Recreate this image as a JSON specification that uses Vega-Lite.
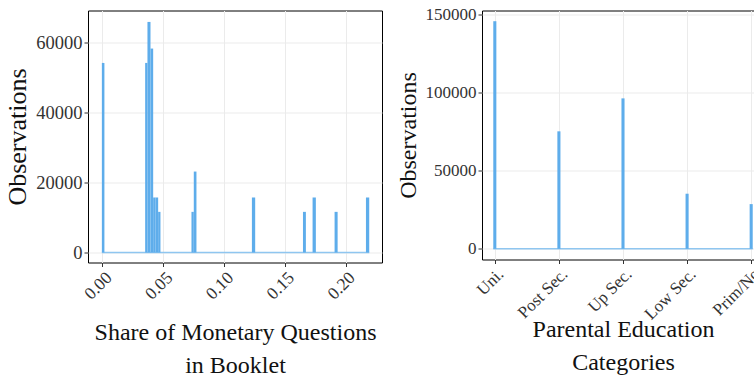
{
  "$schema": "https://vega.github.io/schema/vega-lite/v6.json",
  "padding": {"left": 4, "top": 4.5, "right": 0, "bottom": 0},
  "config": {
    "font": "Liberation Serif",
    "view": {"stroke": "#000000", "strokeWidth": 1},
    "axis": {
      "labelFont": "Liberation Serif",
      "titleFont": "Liberation Serif",
      "labelFontSize": 17,
      "titleFontSize": 24,
      "titleFontWeight": "normal",
      "labelColor": "#333333",
      "titleColor": "#111111",
      "gridColor": "#EBEBEB",
      "gridWidth": 1,
      "tickColor": "#333333",
      "tickSize": 4,
      "domain": false,
      "labelPadding": 2,
      "titleLineHeight": 33
    }
  },
  "datasets": {
    "share": [
      {"x0": -0.0005, "x1": 0.0016, "n": 54100},
      {"x0": 0.0351, "x1": 0.037, "n": 54100},
      {"x0": 0.037, "x1": 0.0395, "n": 65800},
      {"x0": 0.0395, "x1": 0.0417, "n": 58200},
      {"x0": 0.0417, "x1": 0.0437, "n": 15700},
      {"x0": 0.0437, "x1": 0.0458, "n": 15700},
      {"x0": 0.0458, "x1": 0.0477, "n": 11600},
      {"x0": 0.0732, "x1": 0.0751, "n": 11600},
      {"x0": 0.0751, "x1": 0.0773, "n": 23100},
      {"x0": 0.1229, "x1": 0.1256, "n": 15700},
      {"x0": 0.1649, "x1": 0.1673, "n": 11600},
      {"x0": 0.1728, "x1": 0.1755, "n": 15700},
      {"x0": 0.1909, "x1": 0.1934, "n": 11600},
      {"x0": 0.2167, "x1": 0.2194, "n": 15700}
    ],
    "share_base": [{"x0": -0.0005, "x1": 0.2194, "n": 0}],
    "edu": [
      {"x0": 0.976, "x1": 1.024, "n": 145700, "cat": "Uni."},
      {"x0": 1.976, "x1": 2.024, "n": 75200, "cat": "Post Sec."},
      {"x0": 2.976, "x1": 3.024, "n": 96300, "cat": "Up Sec."},
      {"x0": 3.976, "x1": 4.024, "n": 35260, "cat": "Low Sec."},
      {"x0": 4.976, "x1": 5.024, "n": 28600, "cat": "Prim/No"}
    ],
    "edu_base": [{"x0": 0.976, "x1": 5.024, "n": 0}]
  },
  "hconcat": [
    {
      "width": 294,
      "height": 252,
      "layer": [
        {
          "data": {"name": "share_base"},
          "mark": {"type": "rule", "color": "#8FC6F0", "strokeWidth": 1.6},
          "encoding": {
            "x": {"field": "x0", "type": "quantitative", "scale": {"domain": [-0.0119, 0.2299], "nice": false, "zero": false}},
            "x2": {"field": "x1"},
            "y": {"field": "n", "type": "quantitative", "scale": {"domain": [-2850, 69060], "nice": false, "zero": false}}
          }
        },
        {
          "data": {"name": "share"},
          "mark": {"type": "bar", "color": "#5EADEB"},
          "encoding": {
            "x": {
              "field": "x0", "type": "quantitative",
              "scale": {"domain": [-0.0119, 0.2299], "nice": false, "zero": false},
              "axis": {
                "values": [0, 0.05, 0.1, 0.15, 0.2], "format": ".2f",
                "labelAngle": -45, "labelAlign": "right", "labelBaseline": "top",
                "labelFontSize": 17.5,
                "title": ["Share of Monetary Questions", "in Booklet"],
                "titlePadding": 18
              }
            },
            "x2": {"field": "x1"},
            "y": {
              "field": "n", "type": "quantitative",
              "scale": {"domain": [-2850, 69060], "nice": false, "zero": false},
              "axis": {"values": [0, 20000, 40000, 60000], "format": "d", "labelFontSize": 18.5, "titleFontSize": 26, "title": "Observations", "titlePadding": 5}
            },
            "y2": {"datum": 0}
          }
        }
      ]
    },
    {
      "width": 282,
      "height": 249,
      "layer": [
        {
          "data": {"name": "edu_base"},
          "mark": {"type": "rule", "color": "#8FC6F0", "strokeWidth": 1.6},
          "encoding": {
            "x": {"field": "x0", "type": "quantitative", "scale": {"domain": [0.8, 5.2], "nice": false, "zero": false}},
            "x2": {"field": "x1"},
            "y": {"field": "n", "type": "quantitative", "scale": {"domain": [-6860, 152560], "nice": false, "zero": false}}
          }
        },
        {
          "data": {"name": "edu"},
          "mark": {"type": "bar", "color": "#5EADEB"},
          "encoding": {
            "x": {
              "field": "x0", "type": "quantitative",
              "scale": {"domain": [0.8, 5.2], "nice": false, "zero": false},
              "axis": {
                "values": [1, 2, 3, 4, 5],
                "labelExpr": "['', 'Uni.', 'Post Sec.', 'Up Sec.', 'Low Sec.', 'Prim/No'][datum.value]",
                "labelAngle": -45, "labelAlign": "right", "labelBaseline": "top",
                "title": ["Parental Education", "Categories"],
                "titlePadding": -5
              }
            },
            "x2": {"field": "x1"},
            "y": {
              "field": "n", "type": "quantitative",
              "scale": {"domain": [-6860, 152560], "nice": false, "zero": false},
              "axis": {"values": [0, 50000, 100000, 150000], "format": "d", "title": "Observations", "titlePadding": 5}
            },
            "y2": {"datum": 0}
          }
        }
      ]
    }
  ],
  "spacing": 100,
  "bounds": "flush"
}
